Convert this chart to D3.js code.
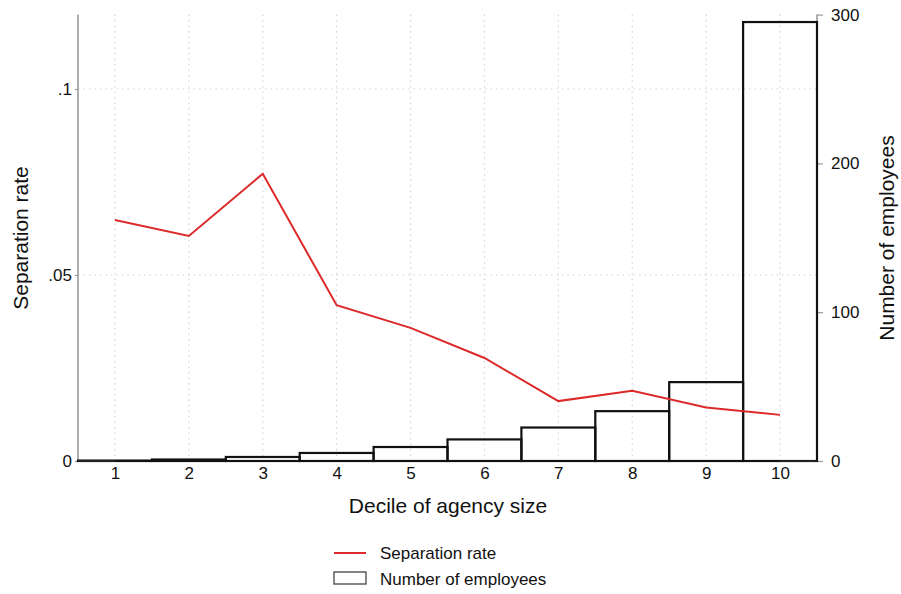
<!DOCTYPE html>
<html><head><meta charset="utf-8">
<script src="https://cdn.jsdelivr.net/npm/d3@7"></script>
<style>body{margin:0;background:#fff;} svg{display:block;font-family:"Liberation Sans",Arial,Helvetica,sans-serif;}</style>
</head><body>
<svg id="c" width="901" height="594"></svg>
<script>
const deciles = [1,2,3,4,5,6,7,8,9,10];
const separationRate = [0.0648,0.0605,0.0772,0.0419,0.0358,0.0277,0.0161,0.0189,0.0144,0.0124];
const employees = [0.3,1,2.7,5.4,9.4,14.5,22.5,33.5,53,295];
const leftTicks = [0,0.05,0.1];
const leftTickLabels = ["0",".05",".1"];
const rightTicks = [0,100,200,300];

const svg = d3.select("#c");
const L = 78, R = 817, T = 14.6, B = 461;
const x = d3.scaleLinear().domain([0.5,10.5]).range([L,R]);
const yL = d3.scaleLinear().domain([0,0.12]).range([B,T]);
const yR = d3.scaleLinear().domain([0,300]).range([B,T]);

// gridlines
const g = svg.append("g");
g.selectAll("line.vg").data(deciles).enter().append("line")
  .attr("x1",d=>x(d)).attr("x2",d=>x(d)).attr("y1",T).attr("y2",B)
  .attr("stroke","#d4d4d4").attr("stroke-width",1.2).attr("stroke-dasharray","1.5,4");
g.selectAll("line.hg").data(leftTicks.filter(d=>d>0)).enter().append("line")
  .attr("x1",L).attr("x2",R).attr("y1",d=>yL(d)).attr("y2",d=>yL(d))
  .attr("stroke","#d4d4d4").attr("stroke-width",1.2).attr("stroke-dasharray","1.5,4");

// axes
const axL = svg.append("g").attr("transform",`translate(${L},0)`)
  .call(d3.axisLeft(yL).tickValues(leftTicks).tickFormat((d,i)=>leftTickLabels[i]).tickSize(3).tickPadding(3));
const axR = svg.append("g").attr("transform",`translate(${R},0)`)
  .call(d3.axisRight(yR).tickValues(rightTicks).tickSize(6).tickPadding(8));
const axX = svg.append("g").attr("transform",`translate(0,${B})`)
  .call(d3.axisBottom(x).tickValues(deciles).tickSize(0).tickPadding(6));
[axL,axR,axX].forEach(a=>{
  a.select(".domain").attr("stroke","#9a9a9a").attr("stroke-width",1.6);
  a.selectAll(".tick line").attr("stroke","#9a9a9a").attr("stroke-width",1.2);
  a.selectAll("text").attr("font-size",17).attr("fill","#111").style("font-family","inherit");
});
axL.select(".domain").attr("d",`M0,${T}V${B}`);
axR.select(".domain").attr("d",`M0,${T}V${B}`);
axX.select(".domain").attr("d",`M${L},0H${R}`);

// bars
svg.append("g").selectAll("rect").data(deciles).enter().append("rect")
  .attr("x",d=>x(d-0.5)).attr("width",d=>x(d+0.5)-x(d-0.5))
  .attr("y",(d,i)=>yR(employees[i])).attr("height",(d,i)=>yR(0)-yR(employees[i]))
  .attr("fill","none").attr("stroke","#111").attr("stroke-width",2.2);

// dark baseline segments beyond data range
svg.append("g").selectAll("line").data([[0.5,1],[10,10.5]]).enter().append("line")
  .attr("x1",d=>x(d[0])).attr("x2",d=>x(d[1])).attr("y1",B).attr("y2",B)
  .attr("stroke","#222").attr("stroke-width",2);

// line
const line = d3.line().x((d,i)=>x(deciles[i])).y(d=>yL(d));
svg.append("path").datum(separationRate).attr("d",line)
  .attr("fill","none").attr("stroke","#dc2a2a").attr("stroke-width",2);

// titles
svg.append("text").attr("x",448).attr("y",513).attr("text-anchor","middle")
  .attr("font-size",21).attr("fill","#111").text("Decile of agency size");
svg.append("text").attr("transform","translate(28,238) rotate(-90)").attr("text-anchor","middle")
  .attr("font-size",21).attr("fill","#111").text("Separation rate");
svg.append("text").attr("transform","translate(894,238) rotate(-90)").attr("text-anchor","middle")
  .attr("font-size",21).attr("fill","#111").text("Number of employees");

// legend
const lg = svg.append("g");
lg.append("line").attr("x1",334).attr("x2",366).attr("y1",553).attr("y2",553)
  .attr("stroke","#dc2a2a").attr("stroke-width",2);
lg.append("text").attr("x",380).attr("y",559).attr("font-size",17).attr("fill","#111").text("Separation rate");
lg.append("rect").attr("x",334).attr("y",572).attr("width",32).attr("height",12)
  .attr("fill","#fff").attr("stroke","#444").attr("stroke-width",1.3);
lg.append("text").attr("x",380).attr("y",585).attr("font-size",17).attr("fill","#111").text("Number of employees");
</script>
</body></html>
